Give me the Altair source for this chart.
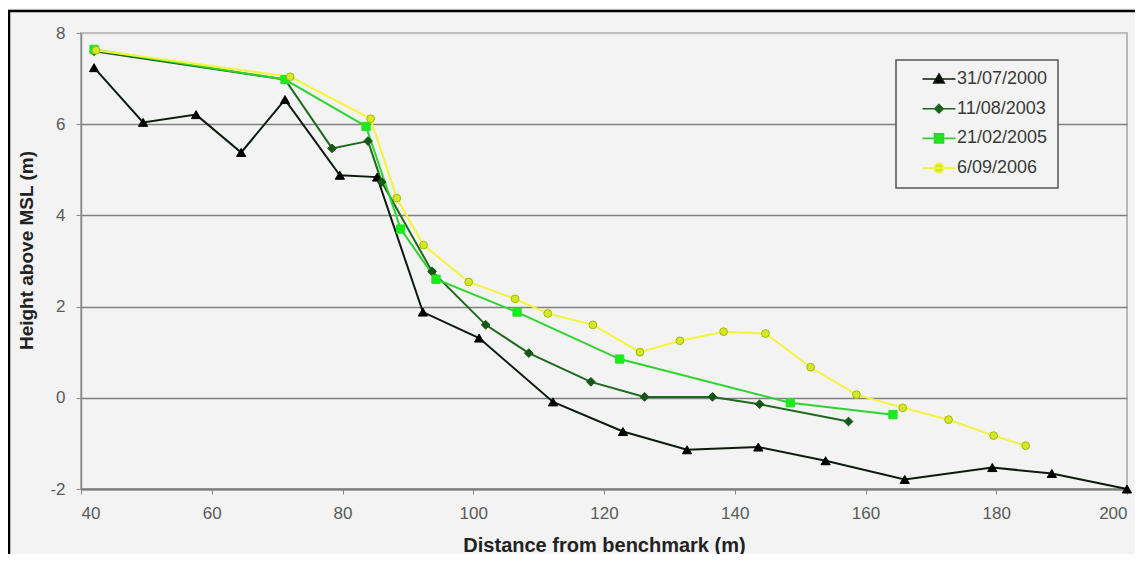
import altair as alt
import pandas as pd

series = ["31/07/2000", "11/08/2003", "21/02/2005", "6/09/2006"]

x_2000 = [42.0, 49.5, 57.6, 64.5, 71.2, 79.6, 85.3, 92.3, 100.9, 112.2, 122.9, 132.7, 143.6, 153.9, 166.0, 179.4, 188.5, 200.0]
y_2000 = [7.24, 6.04, 6.21, 5.38, 6.54, 4.88, 4.84, 1.88, 1.31, -0.09, -0.74, -1.14, -1.08, -1.38, -1.79, -1.53, -1.66, -2.0]

x_2003 = [42.0, 71.2, 78.4, 83.9, 86.0, 93.7, 101.9, 108.5, 118.0, 126.2, 136.6, 143.8, 157.4]
y_2003 = [7.6, 6.98, 5.47, 5.63, 4.73, 2.77, 1.60, 0.98, 0.35, 0.02, 0.02, -0.14, -0.52]

x_2005 = [42.0, 71.2, 83.6, 88.9, 94.3, 106.7, 122.4, 148.5, 164.2]
y_2005 = [7.64, 6.98, 5.95, 3.70, 2.60, 1.88, 0.85, -0.11, -0.37]

x_2006 = [42.3, 72.0, 84.3, 88.3, 92.4, 99.3, 106.4, 111.4, 118.3, 125.5, 131.6, 138.3, 144.7, 151.6, 158.6, 165.7, 172.7, 179.6, 184.5]
y_2006 = [7.62, 7.04, 6.12, 4.38, 3.35, 2.54, 2.17, 1.85, 1.60, 1.00, 1.25, 1.45, 1.41, 0.67, 0.07, -0.22, -0.48, -0.83, -1.05]

x_ticks = [40, 60, 80, 100, 120, 140, 160, 180, 200]
y_ticks = [-2, 0, 2, 4, 6, 8]

line_colors = ["#0c1c0c", "#1d6a1d", "#2ed42e", "#f4f43a"]
marker_fill = ["#000000", "#17571a", "#1ee81e", "#d4e82a"]
marker_stroke = ["#000000", "#17571a", "#1ee81e", "#a9b800"]
marker_shapes = ["triangle-up", "diamond", "square", "circle"]
marker_sizes = [85, 60, 75, 85]

legend_paths = [
    "M-3.3,0H3.3M0,-1L1.05,0.8H-1.05Z",
    "M-3.3,0H3.3M0,-0.85L0.85,0L0,0.85L-0.85,0Z",
    "M-3.3,0H3.3M-0.9,-0.9H0.9V0.9H-0.9Z",
    "M-3.3,0H3.3M-0.95,0A0.95,0.95,0,1,0,0.95,0A0.95,0.95,0,1,0,-0.95,0Z",
]

rows = []
for s, xs, ys in zip(series, [x_2000, x_2003, x_2005, x_2006], [y_2000, y_2003, y_2005, y_2006]):
    for i, (xv, yv) in enumerate(zip(xs, ys)):
        rows.append({"series": s, "x": xv, "y": yv, "i": i})
df = pd.DataFrame(rows)

FONT = "Liberation Sans"
W, H = 1046, 456

xscale = alt.Scale(domain=[40, 200], nice=False, zero=False)
yscale = alt.Scale(domain=[-2, 8], nice=False, zero=False)

xax = alt.Axis(
    values=x_ticks, grid=False, title="Distance from benchmark (m)",
    tickSize=5, tickColor="#888", domainColor="#7a7a7a", domainWidth=2,
    labelPadding=11, labelFontSize=17, labelColor="#5a5a5a", labelFont=FONT,
    titleFont=FONT, titleFontSize=20, titleFontWeight="bold", titleColor="#222",
    titleBaseline="middle", titleY=56,
)
yax = alt.Axis(
    values=y_ticks, grid=True, title="Height above MSL (m)",
    labelExpr="'' + datum.value",
    gridColor={"condition": {"test": "datum.value == 8", "value": "#c4c4c4"}, "value": "#7f7f7f"},
    gridWidth=1.6,
    tickSize=5, tickColor="#888", domainColor="#8a8a8a", domainWidth=1.5,
    labelPadding=11, labelFontSize=17, labelColor="#5a5a5a", labelFont=FONT,
    titleFont=FONT, titleFontSize=19, titleFontWeight="bold", titleColor="#222",
    titleBaseline="middle", titleX=-55, titleY=217,
)

legend = alt.Legend(
    title=None, orient="none", legendX=815, legendY=27,
    fillColor="#f3f3f3",
    padding=10, symbolSize=100, symbolOffset=24, labelOffset=9, rowPadding=11.7,
    symbolStrokeWidth=1.6, symbolOpacity=1,
    labelFont=FONT, labelFontSize=18, labelColor="#3a3a3a",
)

base = alt.Chart(df)
lines = base.mark_line(strokeWidth=2).encode(
    x=alt.X("x:Q", scale=xscale, axis=xax),
    y=alt.Y("y:Q", scale=yscale, axis=yax),
    color=alt.Color("series:N", scale=alt.Scale(domain=series, range=line_colors), legend=None),
    order="i:Q",
)
points = base.mark_point(filled=True, opacity=1, strokeWidth=1).encode(
    x="x:Q", y="y:Q",
    shape=alt.Shape("series:N", scale=alt.Scale(domain=series, range=marker_shapes), legend=None),
    fill=alt.Fill("series:N", scale=alt.Scale(domain=series, range=marker_fill), legend=None),
    stroke=alt.Stroke("series:N", scale=alt.Scale(domain=series, range=marker_stroke), legend=None),
    size=alt.Size("series:N", scale=alt.Scale(domain=series, range=marker_sizes), legend=None),
)
legend_layer = base.transform_filter("false").mark_point(filled=True, opacity=1, strokeWidth=1.6).encode(
    x="x:Q", y="y:Q",
    shape=alt.Shape("series:N", scale=alt.Scale(domain=series, range=legend_paths), legend=legend),
    fill=alt.Fill("series:N", scale=alt.Scale(domain=series, range=marker_fill), legend=legend),
    stroke=alt.Stroke("series:N", scale=alt.Scale(domain=series, range=line_colors), legend=legend),
)

one = pd.DataFrame({"k": [0]})
border_left = alt.Chart(one).mark_rule(color="black", strokeWidth=2.5).encode(
    x=alt.value(-72), y=alt.value(-22), y2=alt.value(H + 80))
border_top = alt.Chart(one).mark_rule(color="black", strokeWidth=2.5).encode(
    x=alt.value(-73), x2=alt.value(W + 40), y=alt.value(-22))

chart = alt.layer(lines, points, legend_layer, border_left, border_top).resolve_scale(
    shape="independent", fill="independent", stroke="independent", size="independent"
).properties(
    width=W, height=H,
    autosize=alt.AutoSizeParams(type="none"),
    padding={"left": 73, "top": 25, "right": 8, "bottom": 65},
    background="#f3f3f3",
).configure_view(
    stroke="#b8b8b8", strokeWidth=2, fill="#f3f3f3"
).configure_legend(
    strokeColor="#555", strokeWidth=1.5
)

chart.save("out.html", embed_options={"renderer": "svg", "actions": False})
